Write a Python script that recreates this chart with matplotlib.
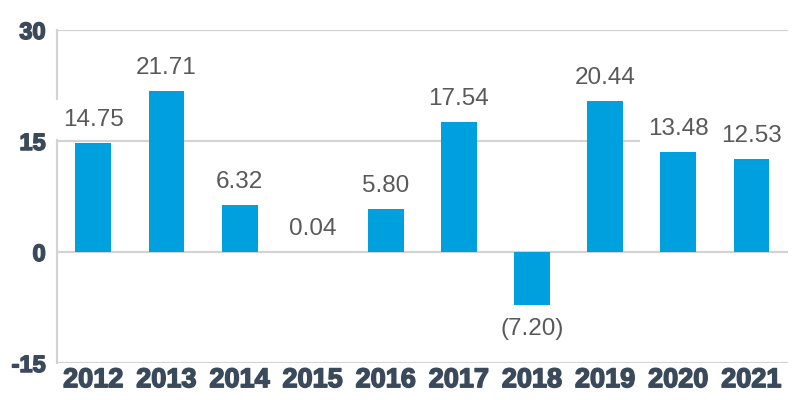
import matplotlib
matplotlib.use("Agg")
import matplotlib.pyplot as plt
import matplotlib.patheffects as pe

years = ["2012", "2013", "2014", "2015", "2016", "2017", "2018", "2019", "2020", "2021"]
returns = [14.75, 21.71, 6.32, 0.04, 5.80, 17.54, -7.20, 20.44, 13.48, 12.53]
yticks = [-15, 0, 15, 30]

bar_color = "#00A0DF"
grid_color = "#D3D3D3"
tick_color = "#3B4A5A"
label_color = "#595959"

fig = plt.figure(figsize=(8, 4), dpi=100)
ax = fig.add_axes([0.071, 0.0925, 0.914, 0.8325])

x = range(len(years))
ax.bar(x, returns, width=0.49, color=bar_color, zorder=2)

ax.set_xlim(-0.5, len(years) - 0.5)
ax.set_ylim(-15, 30)
ax.set_yticks(yticks)
ax.set_yticklabels([str(t) for t in yticks])
ax.set_xticks(list(x))
ax.set_xticklabels(years)

for t in yticks:
    ax.axhline(t, color=grid_color, lw=1.6, zorder=1)

for s in ["top", "right", "bottom"]:
    ax.spines[s].set_visible(False)
ax.spines["left"].set_color(grid_color)
ax.spines["left"].set_linewidth(1.6)

ax.tick_params(axis="both", length=0)
ax.tick_params(axis="y", pad=8)
ax.tick_params(axis="x", pad=3)
heavy = [pe.withStroke(linewidth=1.1, foreground=tick_color)]
tick_font = ["Liberation Sans Narrow", "Liberation Sans"]
for lab in ax.get_yticklabels():
    lab.set_fontfamily(tick_font)
    lab.set_fontweight("bold")
    lab.set_fontsize(17)
    lab.set_color(tick_color)
    lab.set_path_effects(heavy)
for lab in ax.get_xticklabels():
    lab.set_fontfamily(tick_font)
    lab.set_fontweight("bold")
    lab.set_fontsize(19.5)
    lab.set_color(tick_color)
    lab.set_path_effects(heavy)

for i, v in enumerate(returns):
    txt = "({:.2f})".format(-v) if v < 0 else "{:.2f}".format(v)
    off = -17 if v < 0 else 16.5
    ax.annotate(txt, (i, v), xytext=(0, off), textcoords="offset points",
                ha="center", va="center", fontsize=17.5, color=label_color,
                family="Liberation Sans", zorder=3,
                bbox=dict(boxstyle="square,pad=0.35", fc="white", ec="none"))

fig.savefig("out.png", dpi=100)
